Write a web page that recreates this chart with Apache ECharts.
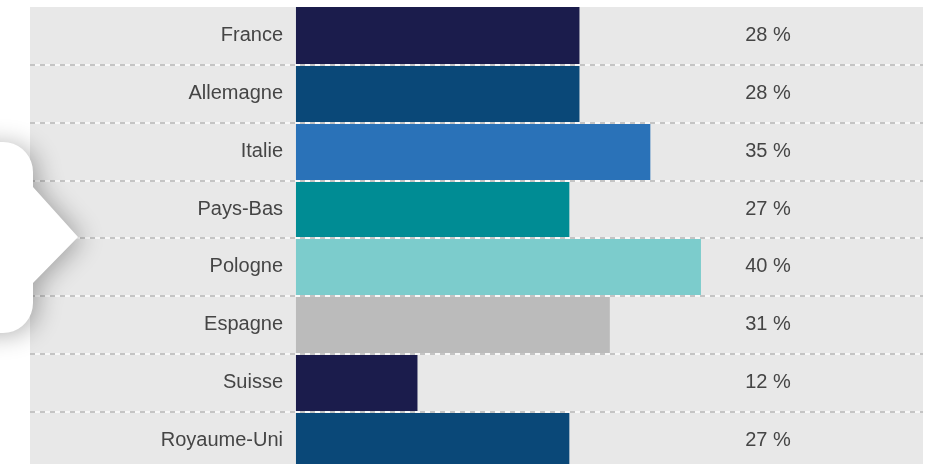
<!DOCTYPE html>
<html>
<head>
<meta charset="utf-8">
<script src="https://cdn.jsdelivr.net/npm/echarts@6/dist/echarts.min.js"></script>
<style>
  html, body { margin: 0; padding: 0; background: #fff; }
  #chart { width: 935px; height: 464px; }
</style>
</head>
<body>
<div id="chart"></div>
<script>
const countries = ['France', 'Allemagne', 'Italie', 'Pays-Bas', 'Pologne', 'Espagne', 'Suisse', 'Royaume-Uni'];
const shares = [28, 28, 35, 27, 40, 31, 12, 27];
const barColors = ['#1b1c4c', '#0a4878', '#2a72b8', '#008c94', '#7ccccc', '#bbbbbb', '#1b1c4c', '#0a4878'];

const chart = echarts.init(document.getElementById('chart'));

const shareLabels = shares.map((v) => v + ' %');

// speech bubble outline on the left (decoration), rounded corners r=30
function bubblePoints() {
  const r = 30, right = 33, top = 142, bottom = 333;
  const pts = [[-60, top]];
  for (let a = -90; a <= 0; a += 10) {
    const t = a * Math.PI / 180;
    pts.push([right - r + r * Math.cos(t), top + r + r * Math.sin(t)]);
  }
  pts.push([right, 187], [78, 237], [right, 283]);
  for (let a = 0; a <= 90; a += 10) {
    const t = a * Math.PI / 180;
    pts.push([right - r + r * Math.cos(t), bottom - r + r * Math.sin(t)]);
  }
  pts.push([-60, bottom]);
  return pts;
}

const labelFont = {
  color: '#454545',
  fontSize: 20,
  fontFamily: 'Liberation Sans, Arial, sans-serif',
  padding: [4, 0, 0, 0]
};

const option = {
  animation: false,
  grid: {
    left: 30,
    right: 12,
    top: 7,
    height: 462,
    outerBoundsMode: 'none',
    containLabel: false,
    show: true,
    backgroundColor: '#e8e8e8',
    borderWidth: 0
  },
  xAxis: {
    type: 'value',
    min: -26.27,
    max: 61.93,
    show: false
  },
  yAxis: [
    {
      type: 'category',
      inverse: true,
      data: countries,
      z: 5,
      axisLine: { show: false },
      axisTick: { show: false },
      axisLabel: Object.assign({ margin: -253 }, labelFont),
      splitLine: {
        show: true,
        interval: (i) => i > 0,
        lineStyle: { color: '#f8f8f8', width: 2, type: 'solid' }
      }
    },
    {
      type: 'category',
      inverse: true,
      position: 'right',
      data: shareLabels,
      z: 6,
      axisLine: { show: false },
      axisTick: { show: false },
      axisLabel: Object.assign({ margin: -155, align: 'center' }, labelFont),
      splitLine: {
        show: true,
        interval: (i) => i > 0,
        lineStyle: { color: '#c4c4c4', width: 2, type: [5, 5] }
      }
    }
  ],
  series: [
    {
      type: 'bar',
      yAxisIndex: 0,
      barCategoryGap: 0,
      data: shares.map((v, i) => ({ value: v, itemStyle: { color: barColors[i] } }))
    }
  ],
  graphic: [
    {
      type: 'polygon',
      z: 100,
      shape: { points: bubblePoints() },
      style: {
        fill: '#ffffff',
        shadowBlur: 24,
        shadowColor: 'rgba(0,0,0,0.3)',
        shadowOffsetX: 5,
        shadowOffsetY: 2
      }
    }
  ]
};

chart.setOption(option);
</script>
</body>
</html>
